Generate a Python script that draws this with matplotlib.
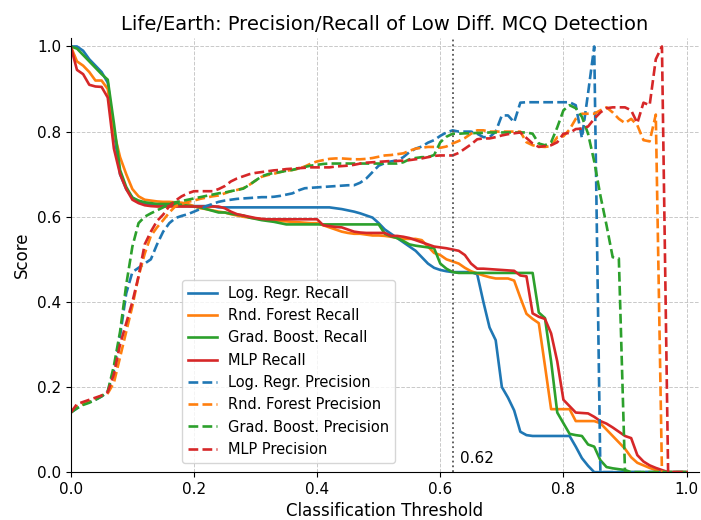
import numpy as np
import matplotlib
matplotlib.use('Agg')
import matplotlib.pyplot as plt

# пороги классификации
thresholds = np.round(np.arange(0, 1.001, 0.01), 2)

# полнота (recall)
lr_recall = [
    1.00, 1.00, 0.99, 0.97, 0.955, 0.94, 0.915, 0.80, 0.70, 0.665,
    0.645, 0.635, 0.63, 0.63, 0.628, 0.627, 0.626, 0.626, 0.625, 0.625,
    0.625, 0.625, 0.625, 0.625, 0.622, 0.622, 0.622, 0.622, 0.622, 0.622,
    0.622, 0.622, 0.622, 0.622, 0.622, 0.622, 0.622, 0.622, 0.622, 0.622,
    0.622, 0.622, 0.622, 0.62, 0.618, 0.615, 0.612, 0.608, 0.603, 0.598,
    0.585, 0.57, 0.56, 0.55, 0.54, 0.53, 0.52, 0.505, 0.49, 0.48,
    0.475, 0.472, 0.47, 0.47, 0.47, 0.47, 0.465, 0.40, 0.34, 0.31,
    0.20, 0.175, 0.145, 0.095, 0.087, 0.085, 0.085, 0.085, 0.085, 0.085,
    0.085, 0.085, 0.06, 0.033, 0.015, 0.0, 0.0, 0.0, 0.0, 0.0,
    0.0, 0.0, 0.0, 0.0, 0.0, 0.0, 0.0, 0.0, 0.0, 0.0, 0.0]
rf_recall = [
    1.00, 0.965, 0.955, 0.94, 0.92, 0.92, 0.90, 0.80, 0.74, 0.70,
    0.665, 0.648, 0.64, 0.638, 0.636, 0.635, 0.635, 0.634, 0.633, 0.63,
    0.625, 0.62, 0.618, 0.615, 0.612, 0.61, 0.606, 0.603, 0.60, 0.598,
    0.596, 0.594, 0.592, 0.591, 0.59, 0.589, 0.588, 0.587, 0.586, 0.585,
    0.585, 0.58, 0.575, 0.57, 0.565, 0.562, 0.56, 0.56, 0.558, 0.556,
    0.556, 0.555, 0.553, 0.55, 0.548, 0.548, 0.548, 0.545, 0.53, 0.515,
    0.51, 0.50, 0.495, 0.49, 0.48, 0.472, 0.467, 0.462, 0.458, 0.455,
    0.455, 0.455, 0.45, 0.41, 0.372, 0.36, 0.35, 0.25, 0.148, 0.148,
    0.148, 0.148, 0.12, 0.12, 0.12, 0.12, 0.115, 0.10, 0.085, 0.07,
    0.055, 0.035, 0.022, 0.016, 0.01, 0.005, 0.0, 0.0, 0.0, 0.0, 0.0]
gb_recall = [
    1.00, 0.995, 0.98, 0.965, 0.95, 0.935, 0.922, 0.82, 0.71, 0.67,
    0.645, 0.638, 0.634, 0.632, 0.63, 0.63, 0.63, 0.63, 0.628, 0.626,
    0.624, 0.622, 0.618, 0.614, 0.61, 0.61, 0.607, 0.605, 0.603, 0.598,
    0.595, 0.592, 0.59, 0.588, 0.585, 0.582, 0.582, 0.582, 0.582, 0.582,
    0.582, 0.582, 0.582, 0.582, 0.582, 0.582, 0.582, 0.582, 0.582, 0.582,
    0.582, 0.56, 0.554, 0.55, 0.543, 0.535, 0.532, 0.53, 0.528, 0.526,
    0.49, 0.478, 0.47, 0.468, 0.468, 0.468, 0.468, 0.468, 0.468, 0.468,
    0.468, 0.468, 0.468, 0.468, 0.468, 0.468, 0.375, 0.362, 0.26, 0.14,
    0.115, 0.09, 0.087, 0.085, 0.065, 0.06, 0.028, 0.012, 0.009, 0.007,
    0.005, 0.0, 0.0, 0.0, 0.0, 0.0, 0.0, 0.0, 0.0, 0.0, 0.0]
mlp_recall = [
    1.00, 0.945, 0.935, 0.91, 0.906, 0.905, 0.88, 0.76, 0.70, 0.665,
    0.64, 0.632, 0.627, 0.625, 0.624, 0.624, 0.624, 0.624, 0.624, 0.624,
    0.624, 0.624, 0.624, 0.624, 0.624, 0.62, 0.612, 0.606, 0.603, 0.60,
    0.597, 0.595, 0.594, 0.594, 0.594, 0.594, 0.594, 0.594, 0.594, 0.594,
    0.594, 0.58, 0.578, 0.576, 0.575, 0.57, 0.565, 0.563, 0.562, 0.562,
    0.562, 0.562, 0.555, 0.555, 0.553, 0.55, 0.545, 0.54, 0.535, 0.53,
    0.528, 0.526, 0.523, 0.52, 0.51, 0.49, 0.478, 0.478, 0.477, 0.476,
    0.475, 0.474, 0.473, 0.462, 0.46, 0.373, 0.365, 0.36, 0.326, 0.26,
    0.17, 0.155, 0.14, 0.139, 0.138, 0.13, 0.12, 0.114, 0.105, 0.095,
    0.085, 0.08, 0.04, 0.025, 0.016, 0.01, 0.005, 0.0, 0.0, 0.0, 0.0]

# точность (precision)
lr_precision = [
    0.14, 0.15, 0.16, 0.165, 0.17, 0.178, 0.188, 0.24, 0.32, 0.42,
    0.47, 0.48, 0.49, 0.50, 0.535, 0.565, 0.585, 0.597, 0.602, 0.606,
    0.612, 0.618, 0.625, 0.63, 0.635, 0.638, 0.64, 0.642, 0.643, 0.644,
    0.645, 0.646, 0.646, 0.647, 0.649, 0.652, 0.655, 0.662, 0.667, 0.668,
    0.669, 0.67, 0.671, 0.672, 0.673, 0.674, 0.674, 0.68, 0.69, 0.705,
    0.72, 0.726, 0.73, 0.732, 0.74, 0.752, 0.76, 0.765, 0.774, 0.78,
    0.79, 0.798, 0.803, 0.80, 0.80, 0.80, 0.795, 0.787, 0.787, 0.80,
    0.838, 0.838, 0.822, 0.868, 0.869, 0.869, 0.869, 0.869, 0.869, 0.869,
    0.869, 0.869, 0.862, 0.785, 0.89, 1.0, 0.0, 0.0, 0.0, 0.0,
    0.0, 0.0, 0.0, 0.0, 0.0, 0.0, 0.0, 0.0, 0.0, 0.0, 0.0]
rf_precision = [
    0.14, 0.155, 0.16, 0.165, 0.172, 0.18, 0.185, 0.21, 0.27, 0.33,
    0.39, 0.46, 0.513, 0.555, 0.575, 0.592, 0.61, 0.625, 0.63, 0.635,
    0.638, 0.642, 0.645, 0.648, 0.65, 0.655, 0.66, 0.663, 0.667, 0.675,
    0.685, 0.694, 0.698, 0.701, 0.705, 0.708, 0.71, 0.713, 0.718, 0.725,
    0.73, 0.733, 0.736, 0.737, 0.737, 0.736, 0.735, 0.735, 0.736, 0.738,
    0.741, 0.744, 0.745, 0.747, 0.749, 0.755, 0.76, 0.762, 0.764, 0.764,
    0.762, 0.765, 0.772, 0.778, 0.785, 0.795, 0.803, 0.803, 0.80, 0.80,
    0.80, 0.80, 0.80, 0.80, 0.775, 0.768, 0.765, 0.764, 0.766, 0.787,
    0.789, 0.805, 0.83, 0.842, 0.842, 0.842, 0.85, 0.857, 0.845, 0.83,
    0.82, 0.83, 0.815, 0.78, 0.777, 0.84, 0.0, 0.0, 0.0, 0.0, 0.0]
gb_precision = [
    0.14, 0.15, 0.158, 0.163, 0.17, 0.178, 0.19, 0.25, 0.33, 0.44,
    0.53, 0.585, 0.60, 0.608, 0.615, 0.622, 0.63, 0.634, 0.637, 0.64,
    0.643, 0.646, 0.649, 0.652, 0.655, 0.657, 0.66, 0.663, 0.666, 0.675,
    0.685, 0.695, 0.70, 0.703, 0.705, 0.708, 0.71, 0.714, 0.717, 0.72,
    0.722, 0.724, 0.725, 0.725, 0.725, 0.725, 0.725, 0.725, 0.725, 0.725,
    0.725, 0.725, 0.725, 0.725, 0.728, 0.735, 0.738, 0.74, 0.74, 0.745,
    0.775, 0.788, 0.795, 0.795, 0.796, 0.796, 0.797, 0.797, 0.798, 0.798,
    0.798, 0.798, 0.798, 0.798, 0.798, 0.795, 0.772, 0.768, 0.775, 0.81,
    0.85, 0.862, 0.855, 0.835, 0.795, 0.73, 0.65, 0.58, 0.505, 0.502,
    0.0, 0.0, 0.0, 0.0, 0.0, 0.0, 0.0, 0.0, 0.0, 0.0, 0.0]
mlp_precision = [
    0.14, 0.16, 0.165, 0.17, 0.175, 0.18, 0.188, 0.23, 0.30, 0.35,
    0.40, 0.46, 0.535, 0.565, 0.59, 0.605, 0.625, 0.638, 0.648, 0.655,
    0.66, 0.66, 0.66, 0.66, 0.665, 0.672, 0.683, 0.69, 0.695, 0.70,
    0.703, 0.705, 0.707, 0.709, 0.71, 0.712, 0.713, 0.714, 0.715, 0.716,
    0.716, 0.716, 0.716, 0.718, 0.719, 0.72, 0.722, 0.725, 0.727, 0.728,
    0.729, 0.73, 0.731, 0.731, 0.732, 0.733, 0.735, 0.737, 0.74, 0.743,
    0.744, 0.744, 0.744, 0.75, 0.76, 0.77, 0.782, 0.784, 0.784, 0.787,
    0.791, 0.794, 0.796, 0.798, 0.785, 0.772, 0.764, 0.766, 0.768, 0.775,
    0.795, 0.797, 0.806, 0.807, 0.812, 0.83, 0.845, 0.855, 0.857, 0.857,
    0.857, 0.85, 0.82, 0.868, 0.862, 0.97, 1.0, 0.0, 0.0, 0.0, 0.0]

model_names = ['Log. Regr.', 'Rnd. Forest', 'Grad. Boost.', 'MLP']
colors = ['#1f77b4', '#ff7f0e', '#2ca02c', '#d62728']
best_threshold = 0.62

recalls = [lr_recall, rf_recall, gb_recall, mlp_recall]
precisions = [lr_precision, rf_precision, gb_precision, mlp_precision]

fig, ax = plt.subplots(figsize=(7.01, 5.2), dpi=100)

for name, rec, col in zip(model_names, recalls, colors):
    ax.plot(thresholds, rec, color=col, linewidth=1.9, label=f'{name} Recall')
for name, prec, col in zip(model_names, precisions, colors):
    ax.plot(thresholds, prec, color=col, linewidth=1.9, linestyle='--',
            label=f'{name} Precision')

# лучший порог
ax.axvline(best_threshold, color='#555555', linestyle=':', linewidth=1.3)
ax.text(best_threshold + 0.012, 0.022, f'{best_threshold:.2f}', fontsize=11)

ax.set_xlim(0, 1.02)
ax.set_ylim(0, 1.02)
ax.set_xticks(np.arange(0, 1.01, 0.2))
ax.set_yticks(np.arange(0, 1.01, 0.2))
ax.tick_params(labelsize=11)
ax.set_xlabel('Classification Threshold', fontsize=12)
ax.set_ylabel('Score', fontsize=12)
ax.set_title('Life/Earth: Precision/Recall of Low Diff. MCQ Detection', fontsize=14)
ax.grid(True, linestyle='--', color='#bbbbbb', linewidth=0.7, alpha=0.8)
ax.spines['top'].set_visible(False)
ax.spines['right'].set_visible(False)

ax.legend(loc='lower left', bbox_to_anchor=(0.165, 0.005), fontsize=10.5)

fig.subplots_adjust(left=0.101, right=0.997, bottom=0.092, top=0.927)
plt.savefig('out.png', dpi=100)
